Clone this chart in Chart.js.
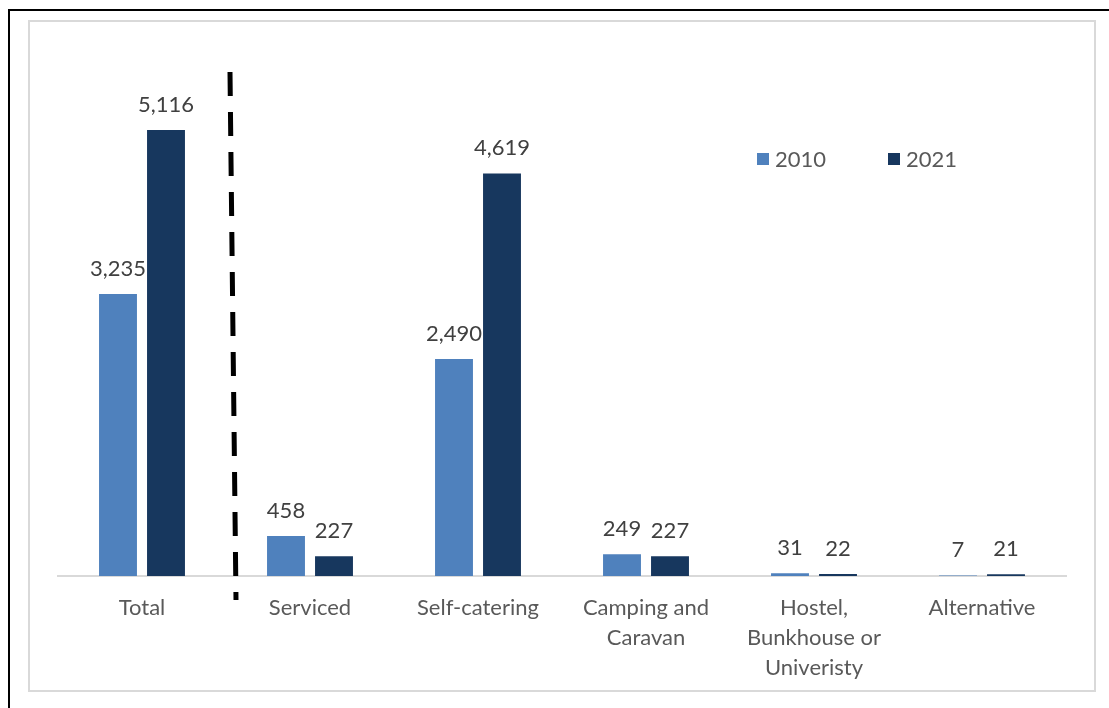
<!DOCTYPE html>
<html>
<head>
<meta charset="utf-8">
<script src="https://cdn.jsdelivr.net/npm/chart.js@4.4.1/dist/chart.umd.min.js"></script>
<style>
  html, body { margin: 0; padding: 0; background: #fff; }
  #frame {
    position: absolute; left: 8px; top: 9px; width: 1120px; height: 720px;
    border-left: 2px solid #000; border-top: 2px solid #000;
  }
  #box {
    position: absolute; left: 28px; top: 20px; width: 1068px; height: 672px;
    border: 2px solid #d9d9d9; box-sizing: border-box;
  }
  #chart-wrap { position: absolute; left: 0; top: 0; width: 1064px; height: 668px; }
</style>
</head>
<body>
<div id="frame"></div>
<div id="box"><div id="chart-wrap"><canvas id="bed-chart"></canvas></div></div>
<script>
const categories = ['Total', 'Serviced', 'Self-catering', ['Camping and', 'Caravan'], ['Hostel,', 'Bunkhouse or', 'Univeristy'], 'Alternative'];
const years = ['2010', '2021'];
const values2010 = [3235, 458, 2490, 249, 31, 7];
const values2021 = [5116, 227, 4619, 227, 22, 21];
const yMax = 6000;

const FONT = 'Lato, "Open Sans", sans-serif';
const colors = ['#4f81bd', '#17375e'];

// value labels above each bar
const valueLabels = {
    id: 'valueLabels',
    afterDatasetsDraw(chart) {
        const c = chart.ctx;
        c.save();
        c.font = '22px ' + FONT;
        c.fillStyle = '#404040';
        c.textAlign = 'center';
        c.textBaseline = 'alphabetic';
        chart.data.datasets.forEach((ds, i) => {
            chart.getDatasetMeta(i).data.forEach((bar, j) => {
                c.fillText(ds.data[j].toLocaleString('en-US'), bar.x, bar.y - 18);
            });
        });
        c.restore();
    },
};

// dashed separator between Total and the breakdown
const separator = {
    id: 'separator',
    afterDraw(chart) {
        const c = chart.ctx;
        const x = chart.scales.x.getPixelForValue(0.5);
        const area = chart.chartArea;
        c.save();
        c.strokeStyle = '#000';
        c.lineWidth = 5;
        c.setLineDash([24, 16]);
        c.beginPath();
        c.moveTo(x + 4, area.top + 19);
        c.lineTo(x + 10, area.bottom + 24);
        c.stroke();
        c.restore();
    },
};

// legend drawn inside the plot, upper right
const insideLegend = {
    id: 'insideLegend',
    afterDraw(chart) {
        const c = chart.ctx;
        const area = chart.chartArea;
        let x = area.left + 699;
        const y = area.top + 106;
        c.save();
        c.font = '22px ' + FONT;
        c.textBaseline = 'middle';
        chart.data.datasets.forEach((ds) => {
            c.fillStyle = ds.backgroundColor;
            c.fillRect(x, y - 6, 12, 12);
            c.fillStyle = '#595959';
            c.fillText(ds.label, x + 18, y + 1);
            x += 131;
        });
        c.restore();
    },
};

new Chart(document.getElementById('bed-chart'), {
    type: 'bar',
    data: {
        labels: categories,
        datasets: [
            { label: years[0], data: values2010, backgroundColor: colors[0] },
            { label: years[1], data: values2021, backgroundColor: colors[1] },
        ],
    },
    options: {
        animation: false,
        responsive: true,
        maintainAspectRatio: false,
        categoryPercentage: 0.5714,
        barPercentage: 0.79,
        layout: { padding: { left: 28, right: 28, top: 31, bottom: 0 } },
        plugins: { legend: { display: false }, tooltip: { enabled: false } },
        scales: {
            x: {
                grid: { display: false, drawTicks: false },
                border: { color: '#d9d9d9', width: 2 },
                ticks: {
                    color: '#595959',
                    font: { family: FONT, size: 22, lineHeight: 1.36 },
                    padding: 17,
                    maxRotation: 0,
                    autoSkip: false,
                },
                afterFit: (scale) => { scale.height = 114; },
            },
            y: { display: false, min: 0, max: yMax },
        },
    },
    plugins: [valueLabels, separator, insideLegend],
});
</script>
</body>
</html>
